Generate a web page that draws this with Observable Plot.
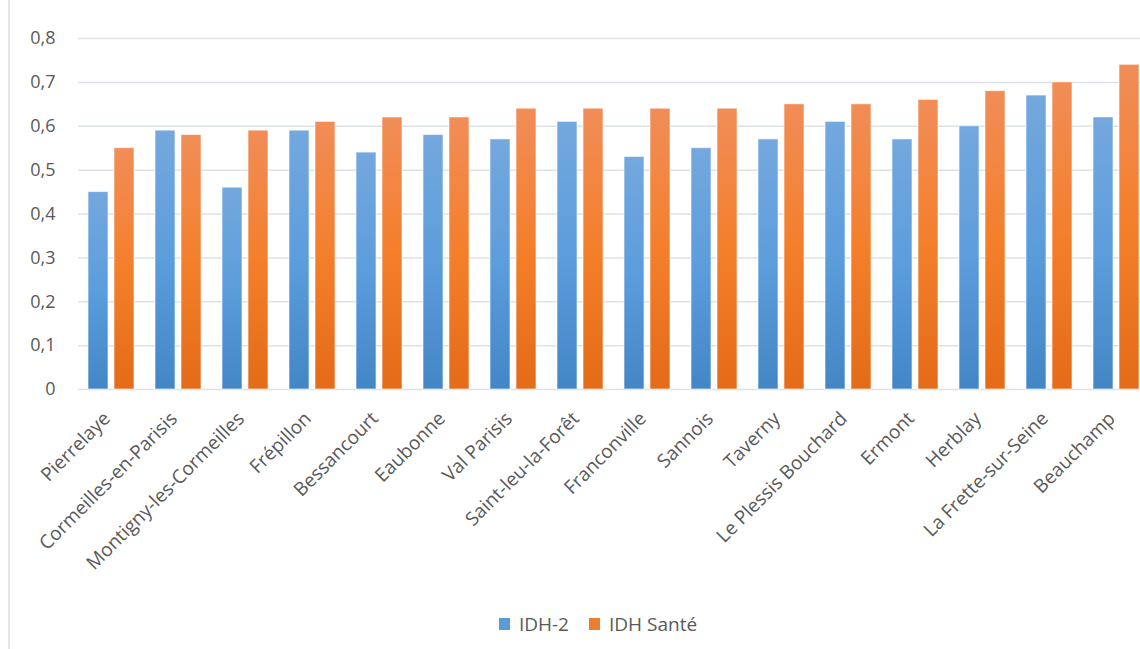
<!DOCTYPE html>
<html><head><meta charset="utf-8">
<script src="https://cdn.jsdelivr.net/npm/d3@7"></script>
<script src="https://cdn.jsdelivr.net/npm/@observablehq/plot@0.6"></script>
<style>
html,body{margin:0;padding:0;background:#fff;overflow:hidden;width:1140px;height:649px}
#wrap{position:relative;width:1140px;height:649px;}
#border{position:absolute;left:8px;top:0;width:1.5px;height:649px;background:#e2e6eb}
#chart{position:absolute;left:0;top:0}
#legend{position:absolute;top:611px;left:28px;width:1140px;display:flex;justify-content:center;align-items:center;font:19px "Open Sans";color:#595959}
.sw{width:11px;height:12px;display:inline-block;margin-right:9px}
.item{display:flex;align-items:center;margin:0 10px}
</style></head>
<body>
<div id="wrap"><div id="border"></div><div id="chart"></div><div id="legend"></div></div>
<script>
const cities = ["Pierrelaye","Cormeilles-en-Parisis","Montigny-les-Cormeilles","Frépillon","Bessancourt","Eaubonne","Val Parisis","Saint-leu-la-Forêt","Franconville","Sannois","Taverny","Le Plessis Bouchard","Ermont","Herblay","La Frette-sur-Seine","Beauchamp"];
const idh2 =      [0.45,0.59,0.46,0.59,0.54,0.58,0.57,0.61,0.53,0.55,0.57,0.61,0.57,0.60,0.67,0.62];
const idhSante =  [0.55,0.58,0.59,0.61,0.62,0.62,0.64,0.64,0.64,0.64,0.65,0.65,0.66,0.68,0.70,0.74];
const series = ["IDH-2","IDH Santé"];
const yTicks = [0,0.1,0.2,0.3,0.4,0.5,0.6,0.7,0.8];
const seriesFill = ["url(#gBlue)","url(#gOrange)"];
const swatchColors = ["#5b9bd5","#ed7d31"];

const rows2 = cities.map((c,i)=>({city:c, serie:series[0], value:idh2[i]}));
const rowsS = cities.map((c,i)=>({city:c, serie:series[1], value:idhSante[i]}));

const plot = Plot.plot({
  width: 1140, height: 600,
  marginLeft: 75, marginRight: -12, marginTop: 38, marginBottom: 211,
  style: {fontFamily: "Open Sans", fontSize: "18px", color: "#595959", background: "transparent"},
  fx: {domain: cities, padding: 0, label: null},
  x: {domain: series, paddingInner: 0.222, paddingOuter: 0.356, axis: null},
  y: {domain: [0,0.8], label: null},
  marks: [
    Plot.gridY(yTicks, {stroke: "#dde2e8", strokeOpacity: 1, strokeWidth: 1.5}),
    Plot.axisY(yTicks, {tickFormat: d => d === 0 ? "0" : d.toFixed(1).replace(".", ","), label: null, tickSize: 0, tickPadding: 23, fontSize: 18}),
    Plot.axisFx({anchor: "bottom", tickRotate: -45, tickSize: 0, tickPadding: 26, dx: -5, label: null, fontSize: 19}),
    Plot.barY(rows2, {fx:"city", x:"serie", y:"value", fill: seriesFill[0], stroke: "#ffffff", strokeOpacity: 0.6, strokeWidth: 1}),
    Plot.barY(rowsS, {fx:"city", x:"serie", y:"value", fill: seriesFill[1], stroke: "#ffffff", strokeOpacity: 0.6, strokeWidth: 1})
  ]
});

const svg = d3.select(plot);
const defs = svg.insert("defs", ":first-child");
function grad(id, stops){
  const g = defs.append("linearGradient").attr("id", id).attr("x1",0).attr("y1",0).attr("x2",0).attr("y2",1);
  stops.forEach(([o,c])=>g.append("stop").attr("offset",o).attr("stop-color",c));
}
grad("gBlue", [[0,"#74a8de"],[0.5,"#5c9ddc"],[1,"#4386c6"]]);
grad("gOrange", [[0,"#f18d58"],[0.5,"#f47f2b"],[1,"#e46b18"]]);

document.getElementById("chart").appendChild(plot);

const legend = d3.select("#legend");
series.forEach((s,i)=>{
  const it = legend.append("div").attr("class","item");
  it.append("span").attr("class","sw").style("background", swatchColors[i]);
  it.append("span").text(s);
});
</script>
</body></html>
